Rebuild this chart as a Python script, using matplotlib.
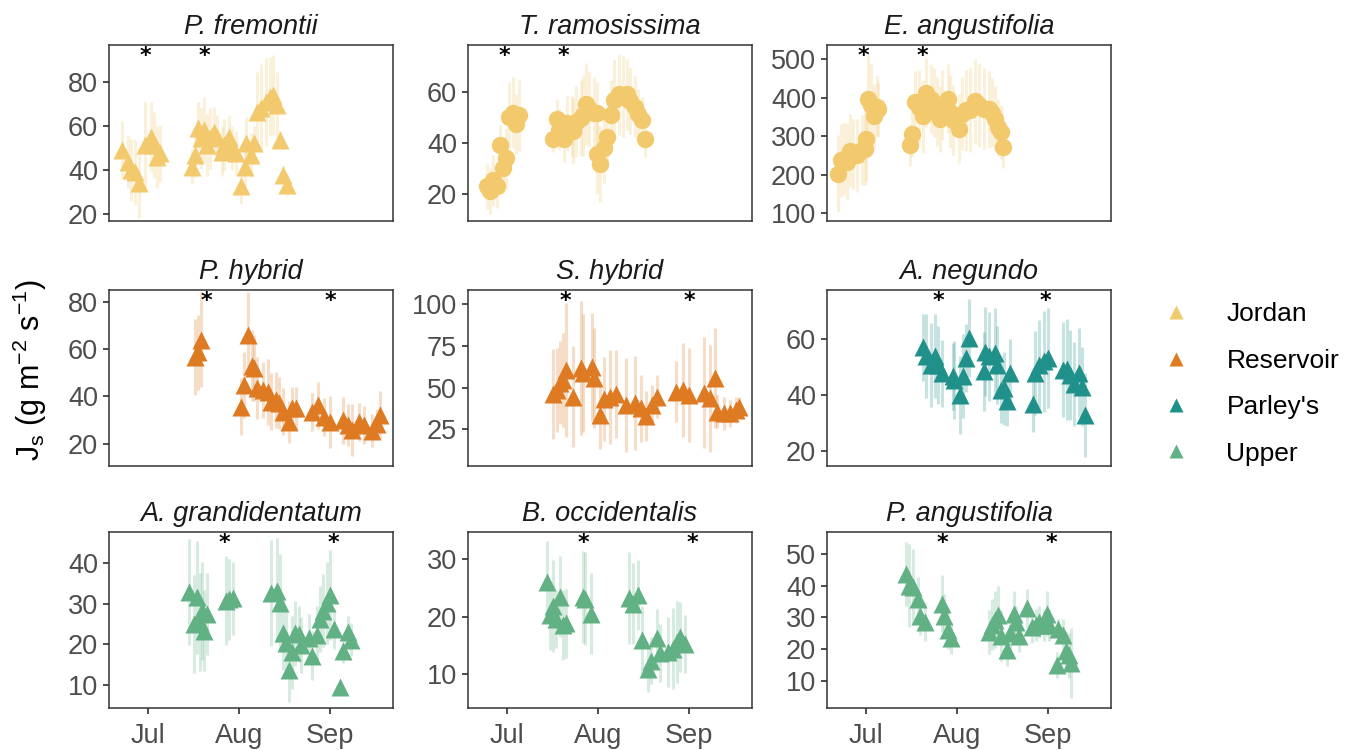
import numpy as np
import matplotlib.pyplot as plt
import matplotlib.transforms as mtransforms
from matplotlib.lines import Line2D

plt.rcParams['font.family'] = ['Liberation Sans', 'DejaVu Sans']
plt.rcParams['mathtext.fontset'] = 'custom'
plt.rcParams['mathtext.rm'] = 'Liberation Sans'
plt.rcParams['mathtext.it'] = 'Liberation Sans:italic'

# site colours
col_jordan = '#F2C96C'
col_reservoir = '#DE7A22'
col_parleys = '#20918A'
col_upper = '#62B185'

# day of year, sap flux density (mean) and its spread
# P. fremontii (Jordan)
fre_day = [173, 175, 176, 177.5, 179, 181, 183, 184, 185, 186,
           197, 198, 199, 200, 201, 202, 203, 204.5, 205.5, 207,
           208, 209.5, 210.5, 212, 213.5, 215, 215.5, 217, 218, 219,
           220.5, 222, 223.5, 224.5, 226, 227, 228, 229.5]
fre_js = [49, 43.8, 40, 39.2, 34, 51.3, 55, 51.3, 46, 47.5,
          41.5, 46.8, 58.9, 54.3, 58, 51.3, 54.3, 57.4, 55, 48.3,
          51.3, 55, 49.8, 47.5, 32.5, 41.5, 52, 46.8, 52, 66.4,
          68, 71, 73.2, 74, 69.4, 53.6, 37.7, 33.2]
fre_sd = [13, 12, 14, 15, 16, 20, 16, 15, 14, 13,
          8, 10, 12, 14, 15, 14, 14, 11, 10, 11,
          12, 10, 10, 10, 8, 9, 12, 10, 8, 18,
          20, 20, 18, 18, 15, 4, 4, 5]

# T. ramosissima (Jordan)
tam_day = [175, 176, 177, 178.5, 179.5, 180.5, 181.5, 182.5, 184, 185, 186,
           197.5, 199, 199.5, 201.5, 202.5, 204, 204.5, 205.5, 207, 208, 209,
           210, 211.5, 212.5, 212.5, 213.5, 215, 216, 217.5, 218.5, 220,
           221.5, 223, 224, 225.5, 226.5, 228, 229]
tam_js = [22.9, 21, 25.3, 23.2, 39.1, 30.3, 33.9, 50.1, 51.9, 47.5, 50.9,
          41.5, 49.3, 45.3, 41.5, 48, 46.4, 44.8, 48.4, 49.7, 51, 55.4,
          53.3, 51.9, 51.9, 35.8, 31.9, 38.2, 42.2, 51, 57, 59.3,
          58.3, 59.3, 56.7, 54.3, 51.4, 49, 41.4]
tam_sd = [9, 9, 10, 9, 8, 10, 12, 14, 14, 12, 14,
          5, 8, 8, 9, 11, 12, 13, 14, 15, 16, 16,
          15, 14, 12, 16, 15, 14, 13, 14, 16, 16,
          16, 14, 13, 12, 10, 9, 7]

# E. angustifolia (Jordan)
ang_day = [172.5, 173.5, 174.5, 175.5, 176.5, 177.5, 179, 180.5, 181.5, 182,
           182.5, 183.5, 184.5, 185.5, 186,
           197, 197.5, 198.5, 200, 201.5, 202.5, 204, 205, 206, 207,
           208, 210, 210.5, 211.5, 213.5, 214.5, 216, 217.5, 219, 220.5,
           222, 224, 225, 226, 227, 228, 228.5]
ang_js = [203, 238, 242, 234, 262, 254, 251, 264, 268, 294, 398, 381, 352, 377, 371,
          277, 307, 390, 377, 352, 413, 398, 387, 364, 345,
          381, 398, 364, 342, 320, 359, 368, 368, 391, 381,
          372, 370, 361, 346, 323, 312, 273]
ang_sd = [100, 95, 95, 100, 95, 90, 95, 90, 95, 110, 115, 110, 85, 80, 70,
          55, 60, 80, 95, 95, 90, 90, 90, 90, 85,
          90, 90, 95, 90, 90, 95, 105, 110, 110, 110,
          105, 100, 90, 85, 75, 70, 55]

# P. hybrid (Reservoir)
phy_day = [198, 199, 200,
           213.5, 214.5, 216, 217.5, 218, 219, 221, 223, 224, 225.5, 226.5, 228, 230, 231, 232.5,
           238, 240, 242, 244, 248.5, 250, 251.5, 254, 255.5, 258.5, 260, 261]
phy_js = [56.7, 58.7, 64.1,
          35.6, 44.9, 66.2, 53, 52, 43.5, 42.7, 42, 37.8, 38.5, 37.1, 33.5, 29.2, 34.9, 34.9,
          33.5, 36.3, 31.4, 29.2, 29.9, 27.8, 25.7, 29.2, 27.8, 25.4, 28.5, 32.1]
phy_sd = [16, 16, 20,
          12, 14, 18, 15, 14, 13, 12, 14, 12, 12, 11, 10, 9, 9, 9,
          8, 10, 8, 11, 10, 9, 11, 8, 8, 7, 6, 10]

# S. hybrid (Reservoir)
shy_day = [197.5, 199, 200, 201, 202, 204.5, 207, 208, 211, 211.5,
           213.5, 215, 217, 219, 222.5, 225.5, 227.5, 229.5, 231.5, 233,
           239.5, 242, 244, 249, 251, 253, 253.5, 256, 258, 260, 261]
shy_js = [46.2, 48.6, 53, 54.6, 60.6, 44.6, 61.6, 58.6, 62.2, 55.6,
          33.6, 43, 44.6, 46.2, 39.6, 41, 37.6, 33, 39.6, 44.6,
          47.6, 48.6, 45.6, 47, 43.6, 55.6, 35.6, 34.6, 34.6, 36.6, 38.6]
shy_sd = [27, 25, 25, 28, 40, 30, 40, 35, 32, 30,
          20, 25, 28, 26, 28, 28, 20, 15, 12, 13,
          18, 28, 28, 33, 32, 30, 10, 10, 8, 8, 6]

# A. negundo (Parley's)
neg_day = [201.5, 202.5, 204, 205.5, 206.5, 208, 211.5, 212, 214, 215, 216, 217,
           222, 222.5, 224, 226, 226.5, 228, 229, 230, 231,
           239, 239.5, 241, 242.5, 244, 249, 250.5, 251.5, 253, 254.5, 255.5, 256.5]
neg_js = [57, 53.7, 50.7, 53.7, 50.7, 47.7, 46.5, 45.3, 39.9, 46.5, 53.1, 60.2,
          48.3, 55.4, 53.7, 54.9, 50.7, 41.7, 42.3, 37.8, 47.9,
          36.6, 47.9, 50.7, 51.9, 53.1, 48.9, 49.1, 47.1, 43.8, 47.9, 42.9, 32.7]
neg_sd = [12, 15, 15, 15, 14, 12, 12, 14, 14, 15, 12, 14,
          14, 16, 16, 16, 14, 12, 13, 9, 12,
          10, 15, 16, 18, 18, 17, 18, 16, 15, 16, 14, 15]

# A. grandidentatum (Upper)
gra_day = [196, 197.5, 198.5, 199.5, 200.5, 201, 202, 208.5, 209.5, 211,
           224, 226, 227, 228, 229, 230, 231, 232, 233.5, 234, 237,
           238, 239.5, 240.5, 241.5, 243, 244, 245.5, 247.5, 248.5, 250, 251]
gra_js = [32.9, 25, 31.5, 25.5, 28.2, 23.3, 27.4, 30.7, 31, 31.3,
          32.6, 33.2, 30.1, 22.7, 20.3, 13.7, 18, 22.7, 22.5, 19.8, 21.4,
          17.2, 22.3, 26.2, 28.2, 30.1, 32.1, 23.7, 9.4, 18.4, 22.9, 21.1]
gra_sd = [13, 12, 14, 12, 12, 10, 10, 11, 10, 9,
          13, 13, 12, 9, 8, 8, 9, 8, 7, 7, 6,
          6, 7, 8, 9, 10, 11, 5, 1, 3, 4, 4]

# B. occidentalis (Upper)
occ_day = [195.5, 196.5, 197.5, 198.5, 200, 201, 202, 208, 208.5, 210.5,
           223.5, 225, 226.5, 228, 230, 231, 233, 234, 237, 238.5, 240, 241, 242.5]
occ_js = [26, 20.2, 21.8, 19.5, 23.4, 18.5, 18.8, 23.4, 23.1, 20.5,
          23.2, 22.2, 23.7, 15.9, 11, 12.4, 16.3, 13.7, 13.9, 14.4, 15.6, 16.5, 15.3]
occ_sd = [7, 6, 8, 5, 7, 6, 6, 8, 8, 7,
          8, 7, 6, 6, 4, 4, 5, 5, 6, 7, 7, 6, 5]

# P. angustifolia (Upper)
pan_day = [195.5, 196.5, 198, 199.5, 200.5, 202, 208, 208.5, 210, 211,
           224, 225, 226, 227, 228, 230, 231, 232.5, 233, 234, 237, 238.5,
           240, 241, 242.5, 243.5, 244.5, 247, 247.5, 249, 250, 251, 252]
pan_js = [43.7, 40, 39.5, 35.7, 30.6, 28.7, 34.3, 30.4, 26.2, 23.5,
          25.4, 27.7, 29.3, 30.8, 24.3, 19.9, 25.2, 31.2, 28.5, 24.3, 32.9, 27,
          27.7, 28.7, 27.5, 31.2, 27.5, 15.1, 26.4, 24.6, 19.6, 18.1, 15.8]
pan_sd = [10, 13, 12, 7, 6, 6, 9, 7, 6, 5,
          7, 8, 9, 9, 8, 5, 6, 7, 5, 5, 6, 5,
          5, 5, 5, 7, 5, 4, 3, 5, 6, 7, 11]

# days marked with an asterisk, per site
jordan_star = [181, 201]
reservoir_star = [202, 244]
parleys_star = [206.5, 243]
upper_star = [208, 245]

month_days = [182, 213, 244]
month_labels = ['Jul', 'Aug', 'Sep']

panels = [
    ('P. fremontii', fre_day, fre_js, fre_sd, col_jordan, '^', (16.8, 96.7), [20, 40, 60, 80], jordan_star),
    ('T. ramosissima', tam_day, tam_js, tam_sd, col_jordan, 'o', (9.2, 78.7), [20, 40, 60], jordan_star),
    ('E. angustifolia', ang_day, ang_js, ang_sd, col_jordan, 'o', (80, 537), [100, 200, 300, 400, 500], jordan_star),
    ('P. hybrid', phy_day, phy_js, phy_sd, col_reservoir, '^', (10.5, 85.1), [20, 40, 60, 80], reservoir_star),
    ('S. hybrid', shy_day, shy_js, shy_sd, col_reservoir, '^', (3.2, 108.2), [25, 50, 75, 100], reservoir_star),
    ('A. negundo', neg_day, neg_js, neg_sd, col_parleys, '^', (14.5, 77.4), [20, 40, 60], parleys_star),
    ('A. grandidentatum', gra_day, gra_js, gra_sd, col_upper, '^', (4.3, 47.6), [10, 20, 30, 40], upper_star),
    ('B. occidentalis', occ_day, occ_js, occ_sd, col_upper, '^', (4.2, 34.6), [10, 20, 30], upper_star),
    ('P. angustifolia', pan_day, pan_js, pan_sd, col_upper, '^', (1.6, 56.8), [10, 20, 30, 40, 50], upper_star),
]

fig = plt.figure(figsize=(13.5, 7.5), dpi=100)

lefts = [109, 468, 827]
tops = [45, 290, 532]
w, h = 284, 176

for i, (title, day, js, sd, col, mk, ylim, yt, stars) in enumerate(panels):
    r, c = divmod(i, 3)
    ax = fig.add_axes([lefts[c] / 1350, 1 - (tops[r] + h) / 750, w / 1350, h / 750])
    day = np.array(day)
    js = np.array(js)
    sd = np.array(sd)
    ax.vlines(day, js - sd, js + sd, color=col, alpha=0.25, lw=2.2, zorder=1)
    ax.plot(day, js, mk, color=col, ms=12.5, mec='none', zorder=2)
    tr = mtransforms.blended_transform_factory(ax.transData, ax.transAxes)
    for s in stars:
        ax.text(s, 0.935, '*', transform=tr, ha='center', va='center',
                fontsize=16, fontweight='bold', color='black', family='DejaVu Sans')
    ax.set_xlim(168.6, 265.5)
    ax.set_ylim(*ylim)
    ax.set_yticks(yt)
    ax.set_xticks(month_days)
    ax.tick_params(labelsize=19.5, colors='#4D4D4D', width=1.4, length=4.5)
    ax.tick_params(axis='x', pad=6)
    if r == 2:
        ax.set_xticklabels(month_labels)
    else:
        ax.tick_params(axis='x', length=0, labelbottom=False)
    for sp in ax.spines.values():
        sp.set_color('#333333')
        sp.set_linewidth(1.1)
    ax.set_title(title, fontsize=19.5, style='italic', color='#1A1A1A', pad=8)

fig.text(0.022, 0.507, r'J$_\mathrm{s}$ (g m$^{-2}$ s$^{-1}$)', rotation=90,
         ha='center', va='center', fontsize=22, color='black')

handles = [Line2D([], [], ls='none', marker='^', ms=10, color=cc, mec='none')
           for cc in [col_jordan, col_reservoir, col_parleys, col_upper]]
fig.legend(handles, ['Jordan', 'Reservoir', "Parley's", 'Upper'], loc='center left',
           bbox_to_anchor=(0.842, 0.488), frameon=False, fontsize=19,
           labelspacing=0.85, handlelength=1.2, handletextpad=1.3)

fig.savefig('out.png', dpi=100)
